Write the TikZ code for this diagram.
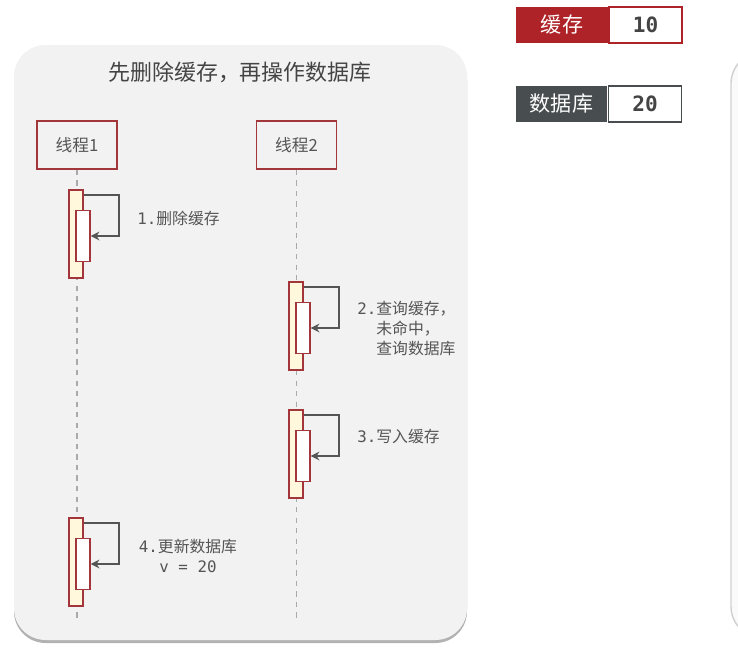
\documentclass[tikz,border=0pt]{standalone}
\usepackage{fontspec}
\setmainfont{Noto Sans CJK SC}
\setmonofont{DejaVu Sans Mono}
\usetikzlibrary{positioning,shadows,arrows.meta}

\definecolor{panelgray}{HTML}{F2F2F2}
\definecolor{threadred}{HTML}{A3363A}
\definecolor{barcream}{HTML}{FFF8DC}
\definecolor{textgray}{HTML}{555555}
\definecolor{linegray}{HTML}{AAAAAA}
\definecolor{cachered}{HTML}{AE2328}
\definecolor{dbgray}{HTML}{484D4F}

\newcommand{\mono}[1]{{\ttfamily #1}}

\begin{document}
\begin{tikzpicture}[x=0.02cm, y=-0.02cm, >={Stealth[length=5pt,width=5pt]},
    thread/.style={draw=threadred, fill=panelgray, line width=0.8pt, minimum width=1.6cm,
        minimum height=0.96cm, text=textgray, font=\fontsize{9.5}{11}\selectfont},
    outerbar/.style={draw=threadred, fill=barcream, line width=0.7pt, minimum width=0.28cm,
        minimum height=1.76cm, inner sep=0pt},
    innerbar/.style={draw=threadred, fill=white, line width=0.7pt, minimum width=0.28cm,
        minimum height=1.02cm, inner sep=0pt},
    selfcall/.style={->, draw=textgray, line width=1.1pt},
    lifeline/.style={draw=linegray, dashed, line width=0.6pt},
    steplabel/.style={text=textgray, font=\fontsize{9}{11.3}\selectfont, inner sep=0pt},
    legkey/.style={minimum width=1.84cm, minimum height=0.72cm, text=white,
        font=\fontsize{12}{14}\selectfont, inner sep=0pt},
    legval/.style={fill=white, line width=0.9pt, minimum width=1.46cm, minimum height=0.72cm,
        text=textgray!80!black, font=\fontsize{12}{14}\selectfont\ttfamily\bfseries, inner sep=0pt}]
    \useasboundingbox (0,0) rectangle (738,657);
    \fill[white] (0,0) rectangle (738,657);

    % pannello principale
    \fill[panelgray, rounded corners=18,
        drop shadow={shadow xshift=0cm, shadow yshift=-0.06cm, fill=black, opacity=0.3}]
        (14,45) rectangle (467,640);
    \node[text=textgray!80!black, font=\fontsize{12.5}{14}\selectfont] (title) at (240,72)
        {先删除缓存，再操作数据库};

    % pannello a destra (tagliato)
    \begin{scope}
        \clip (0,0) rectangle (738,657);
        \draw[draw=black!18, fill=black!2, line width=0.8pt, rounded corners=18]
            (731,52) rectangle (800,638);
    \end{scope}

    % thread
    \node[thread] (t1) at (77,145) {线程1};
    \node[thread] (t2) at (296.5,145) {线程2};
    \coordinate (e1) at (77,622);
    \coordinate (e2) at (296.5,622);
    \draw[lifeline] (t1.south) -- (e1);
    \draw[lifeline] (t2.south) -- (e2);

    % attivazioni
    \foreach \i/\x/\y in {1/76/234, 2/296/326, 3/296/454, 4/76/562} {
        \node[outerbar] (a\i) at (\x,\y) {};
        \node[innerbar] (b\i) at (\x+7,\y+2) {};
        \draw[selfcall] ([yshift=-0.12cm]a\i.north east) -- ++(35,0) |- (b\i.east);
    }

    % etichette
    \node[steplabel, anchor=west] (l1) at (137,218) {\mono{1.}删除缓存};
    \node[steplabel, anchor=north west, align=left] (l2) at (357,301)
        {\mono{2.}查询缓存，\\\hphantom{\mono{2.}}未命中，\\\hphantom{\mono{2.}}查询数据库};
    \node[steplabel, anchor=west] (l3) at (357,437) {\mono{3.}写入缓存};
    \node[steplabel, align=center] (l4) at (188,556) {\mono{4.}更新数据库\\\mono{v = 20}};

    % legenda
    \node[legkey, fill=cachered] (k1) at (562,25) {缓存};
    \node[legval, draw=cachered, right=0pt of k1] (v1) {10};
    \node[legkey, fill=dbgray] (k2) at (561.5,104) {数据库};
    \node[legval, draw=dbgray, right=0pt of k2] (v2) {20};
\end{tikzpicture}
\end{document}
